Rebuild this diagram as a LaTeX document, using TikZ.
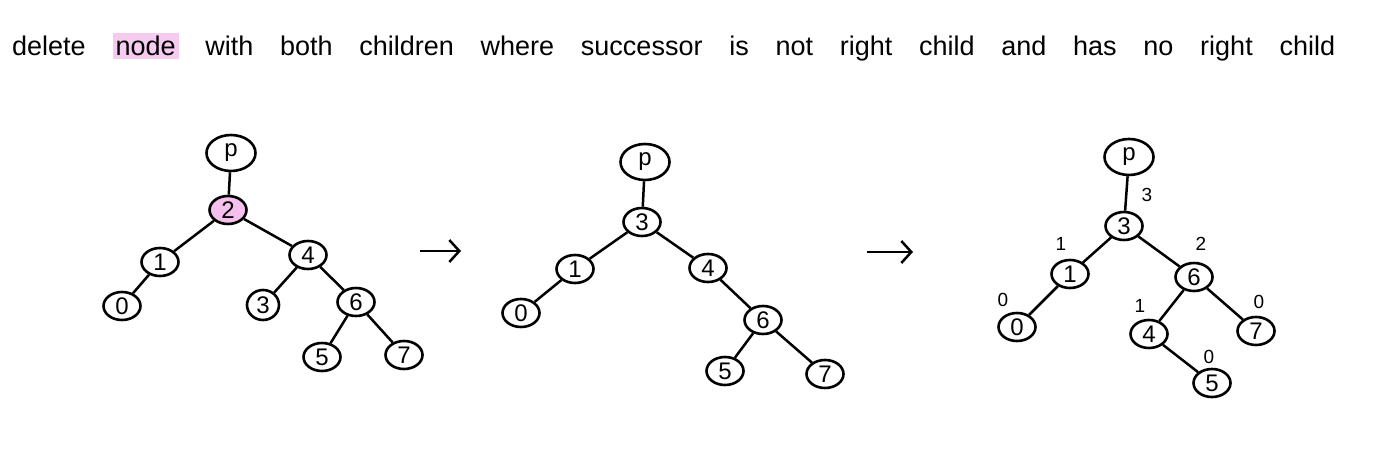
\documentclass[tikz,border=0pt]{standalone}
\usepackage{fontspec}
\setmainfont{Liberation Sans}
\usetikzlibrary{shapes.geometric, arrows.meta}
\definecolor{hlpink}{RGB}{236,140,222}

\begin{document}
\begin{tikzpicture}[x=1pt, y=-1pt,
    key/.style={draw, ellipse, line width=2.6pt, minimum width=37pt, minimum height=28pt,
        inner sep=0pt, font=\fontsize{24}{24}\selectfont},
    root/.style={key, minimum width=49pt, minimum height=36pt},
    edge/.style={line width=2.5pt},
    depth/.style={inner sep=0pt, font=\fontsize{19}{19}\selectfont},
    flow/.style={line width=2.5pt, -{Straight Barb[length=10pt, width=22pt]}}]

    \useasboundingbox (0,0) rectangle (1397,457);

    % --- Caption ---
    \node[anchor=west, inner sep=0pt, font=\fontsize{27}{27}\selectfont] (caption) at (12,47)
        {\makebox[1323pt][s]{delete \colorbox{hlpink!45}{node} with both children where successor is not right child and has no right child}};

    % --- Tree before: node 2 is the one to delete ---
    \node[root] (Ap) at (231,153) {p};
    \node[key, fill=hlpink!55] (A2) at (228,210) {2};
    \node[key] (A1) at (160,262) {1};
    \node[key] (A4) at (308,255) {4};
    \node[key] (A0) at (122,306) {0};
    \node[key, minimum width=32pt, minimum height=30pt] (A3) at (263,305) {3};
    \node[key] (A6) at (356,302) {6};
    \node[key] (A5) at (322,357) {5};
    \node[key] (A7) at (404,355) {7};
    \foreach \a/\b in {Ap/A2, A2/A1, A2/A4, A1/A0, A4/A3, A4/A6, A6/A5, A6/A7}
        \draw[edge] (\a) -- (\b);

    % --- First step arrow ---
    \coordinate (s1) at (420,251);
    \coordinate (e1) at (461,251);
    \draw[flow] (s1) -- (e1);

    % --- Tree after the successor 3 took the place of 2 ---
    \node[root] (Bp) at (645,162) {p};
    \node[key] (B3) at (642,222) {3};
    \node[key] (B1) at (575,269) {1};
    \node[key] (B4) at (708,268) {4};
    \node[key] (B0) at (521,313) {0};
    \node[key] (B6) at (763,320) {6};
    \node[key] (B5) at (725,371) {5};
    \node[key] (B7) at (825,374) {7};
    \foreach \a/\b in {Bp/B3, B3/B1, B3/B4, B1/B0, B4/B6, B6/B5, B6/B7}
        \draw[edge] (\a) -- (\b);

    % --- Second step arrow ---
    \coordinate (s2) at (867,252);
    \coordinate (e2) at (913,252);
    \draw[flow] (s2) -- (e2);

    % --- Rebalanced tree, heights written beside the nodes ---
    \node[root] (Cp) at (1129,157) {p};
    \node[key] (C3) at (1124,226) {3};
    \node[key] (C1) at (1070,274) {1};
    \node[key] (C6) at (1194,277) {6};
    \node[key] (C0) at (1017,327) {0};
    \node[key] (C4) at (1149,334) {4};
    \node[key] (C7) at (1256,331) {7};
    \node[key] (C5) at (1212,383) {5};
    \foreach \a/\b in {Cp/C3, C3/C1, C3/C6, C1/C0, C6/C4, C6/C7, C4/C5}
        \draw[edge] (\a) -- (\b);

    \node[depth] (h3) at (1147,195) {3};
    \node[depth] (h1) at (1061,244) {1};
    \node[depth] (h6) at (1201,244) {2};
    \node[depth] (h0) at (1003,300) {0};
    \node[depth] (h4) at (1140,306) {1};
    \node[depth] (h7) at (1259,302) {0};
    \node[depth] (h5) at (1209,357) {0};
\end{tikzpicture}
\end{document}
